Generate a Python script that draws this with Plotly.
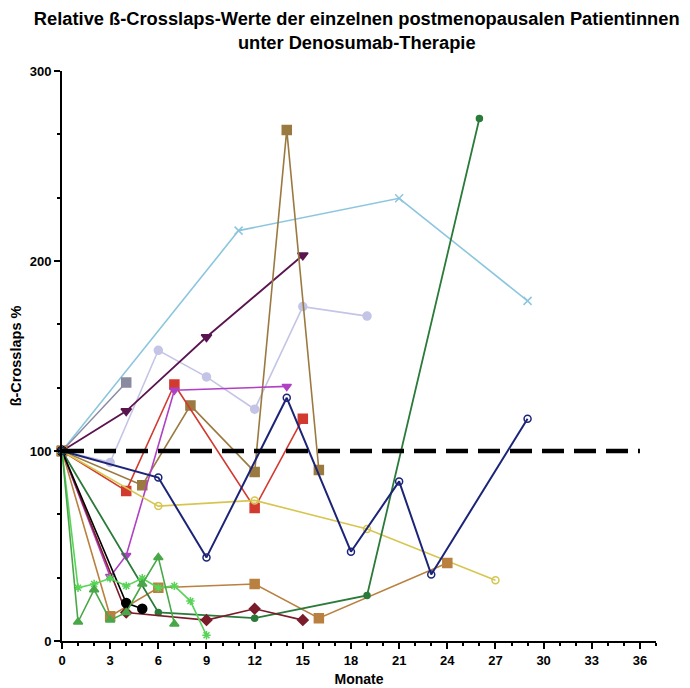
import plotly.graph_objects as go

# Months and relative values (%) per patient
lightblue_x = [0, 11, 21, 29]
lightblue_y = [100, 216, 233, 179]

purple_x = [0, 4, 9, 15]
purple_y = [100, 121, 160, 203]

brown_x = [0, 5, 8, 12, 14, 16]
brown_y = [100, 82, 124, 89, 269, 90]

red_x = [0, 4, 7, 12, 15]
red_y = [100, 79, 135, 70, 117]

magenta_x = [0, 3, 4, 7, 14]
magenta_y = [100, 34, 45, 132, 134]

lavender_x = [0, 3, 6, 9, 12, 15, 19]
lavender_y = [100, 94, 153, 139, 122, 176, 171]

grey_x = [0, 4]
grey_y = [100, 136]

navy_x = [0, 6, 9, 14, 18, 21, 23, 29]
navy_y = [100, 86, 44, 128, 47, 84, 35, 117]

yellow_x = [0, 6, 12, 19, 27]
yellow_y = [100, 71, 74, 59, 32]

orange_x = [0, 3, 6, 12, 16, 24]
orange_y = [100, 13, 28, 30, 12, 41]

dkgreen_x = [0, 6, 12, 19, 26]
dkgreen_y = [100, 15, 12, 24, 275]

dkred_x = [0, 4, 9, 12, 15]
dkred_y = [100, 15, 11, 17, 11]

black_x = [0, 4, 5]
black_y = [100, 20, 17]

ltgreen_x = [0, 1, 2, 3, 4, 5, 6, 7, 8, 9]
ltgreen_y = [100, 28, 30, 33, 29, 33, 28, 29, 21, 3]

green_x = [0, 1, 2, 3, 4, 5, 6, 7]
green_y = [100, 10, 27, 11, 15, 30, 44, 9]

ref_x = [0, 36]
ref_y = [100, 100]

x_ticks = list(range(0, 37, 3))
y_ticks = [0, 100, 200, 300]

series = [
    (lightblue_x, lightblue_y, "#8cc6de", "x-thin", 8, 1.6),
    (lavender_x, lavender_y, "#c4c4e6", "circle", 8, 1.6),
    (grey_x, grey_y, "#8a8aa0", "square", 9, 1.4),
    (purple_x, purple_y, "#5a1450", "triangle-down", 9, 1.8),
    (brown_x, brown_y, "#9a7a40", "square", 9, 1.6),
    (red_x, red_y, "#d23a30", "square", 9, 1.6),
    (magenta_x, magenta_y, "#b040c4", "triangle-down", 8, 1.6),
    (yellow_x, yellow_y, "#d6c650", "circle-open", 7, 1.6),
    (orange_x, orange_y, "#b98040", "square", 9, 1.6),
    (dkgreen_x, dkgreen_y, "#2a7a3a", "circle", 6, 1.8),
    (dkred_x, dkred_y, "#7a1c2a", "diamond", 8, 1.6),
    (black_x, black_y, "#000000", "circle", 9, 1.6),
    (ltgreen_x, ltgreen_y, "#58d458", "asterisk-open", 7, 1.6),
    (green_x, green_y, "#48a848", "triangle-up", 8, 1.6),
    (navy_x, navy_y, "#1c2478", "circle-open", 7, 2.0),
]

fig = go.Figure()
for xs, ys, col, sym, size, lw in series:
    fig.add_trace(go.Scatter(
        x=xs, y=ys, mode="lines+markers",
        line=dict(color=col, width=lw),
        marker=dict(symbol=sym, size=size, color=col,
                    line=dict(color=col, width=1.5)),
        showlegend=False, cliponaxis=False))

fig.add_trace(go.Scatter(x=ref_x, y=ref_y, mode="lines",
                         line=dict(color="black", width=4.5, dash="22px,10px"),
                         showlegend=False))

fig.update_layout(
    width=690, height=688,
    margin=dict(l=62, r=34, t=71, b=47),
    paper_bgcolor="white", plot_bgcolor="white",
    font=dict(family="Liberation Sans, Arial", color="black"),
    title=dict(text="<b>Relative ß-Crosslaps-Werte der einzelnen postmenopausalen Patientinnen<br>unter Denosumab-Therapie</b>",
               x=0.517, xanchor="center", yref="container", y=0.963, yanchor="middle",
               font=dict(size=18.3)),
)
fig.update_xaxes(
    range=[0, 37], tickvals=x_ticks, showgrid=False, zeroline=False, automargin=False,
    showline=True, linecolor="black", linewidth=2,
    ticks="outside", ticklen=6, tickwidth=2, tickcolor="black",
    tickfont=dict(size=13),
    minor=dict(dtick=1, ticks="outside", ticklen=3, tickwidth=1.5, tickcolor="black"),
    title=dict(text="<b>Monate</b>", font=dict(size=14), standoff=8),
)
fig.update_yaxes(
    range=[0, 300], tickvals=y_ticks, showgrid=False, zeroline=False, automargin=False,
    showline=True, linecolor="black", linewidth=2,
    ticks="outside", ticklen=6, tickwidth=2, tickcolor="black",
    tickfont=dict(size=13),
    minor=dict(dtick=100 / 3, ticks="outside", ticklen=3, tickwidth=1.5, tickcolor="black"),
    title=dict(text="<b>ß-Crosslaps %</b>", font=dict(size=14.5), standoff=5),
)
fig.update_xaxes(ticktext=[f"<b>{t}</b>" for t in x_ticks])
fig.update_yaxes(ticktext=[f"<b>{t}</b>" for t in y_ticks])

fig.write_html("out.html")
